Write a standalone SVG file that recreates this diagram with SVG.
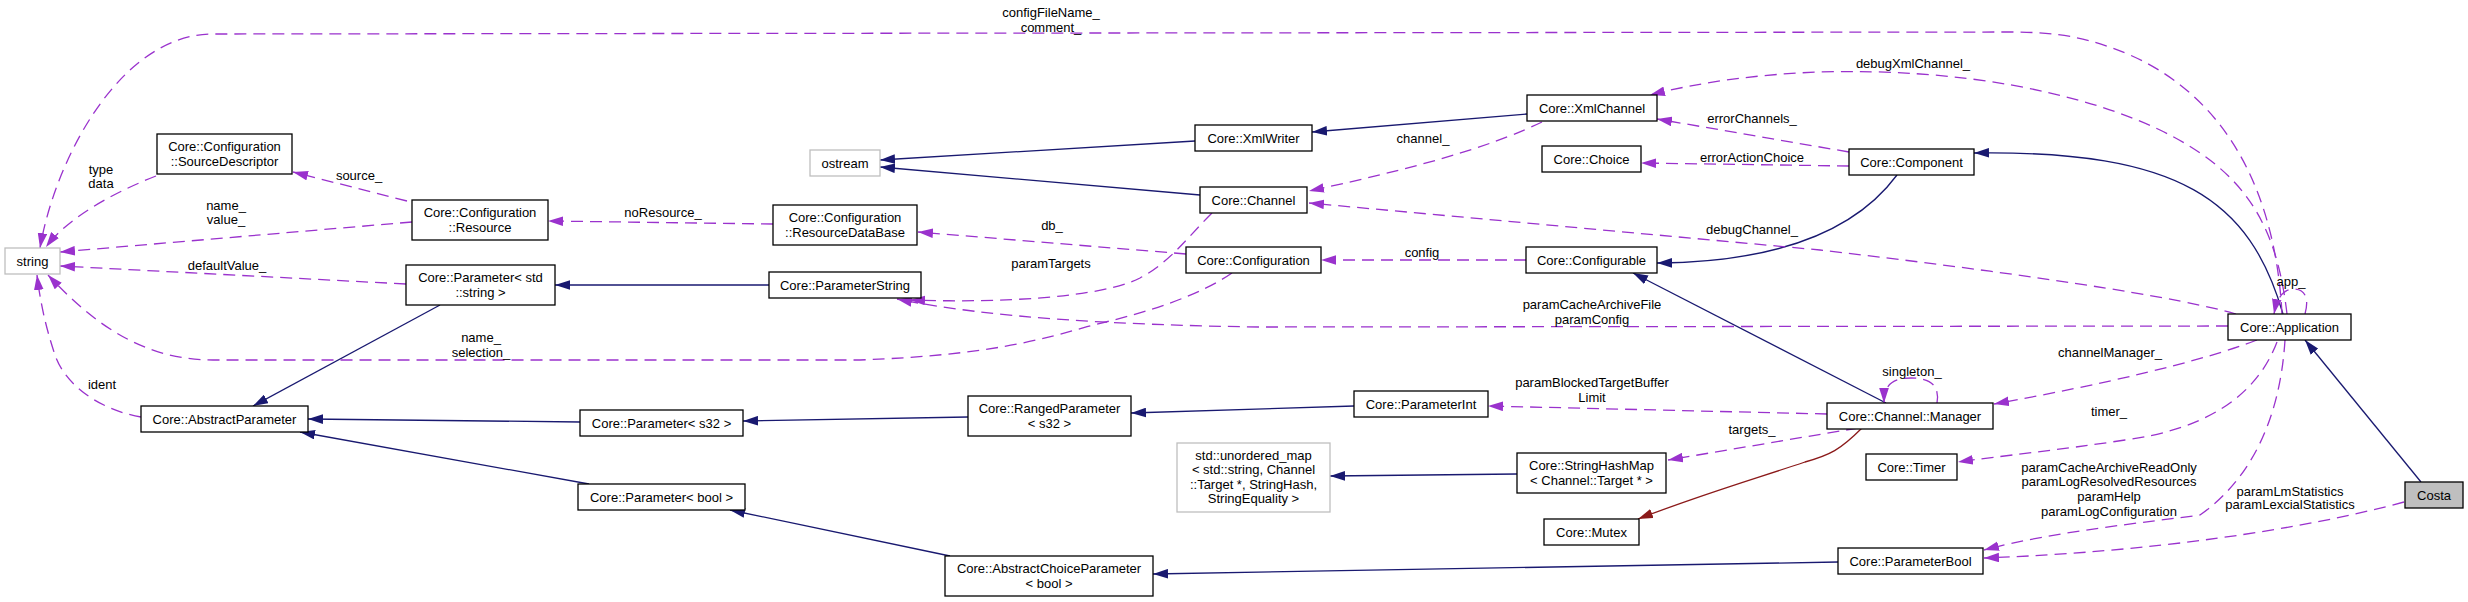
<svg xmlns="http://www.w3.org/2000/svg" width="2468" height="602" viewBox="0 0 2468 602">
<style>
text{font-family:"Liberation Sans",Arial,sans-serif;font-size:13px;fill:#000;text-anchor:middle}
.n rect{fill:#fff;stroke:#000;stroke-width:1.3}
.n.gray rect{stroke:#bfbfbf}
.n.sel rect{fill:#bfbfbf}
.inh{fill:none;stroke:#191970;stroke-width:1.3}
.use{fill:none;stroke:#9a32cd;stroke-width:1.3;stroke-dasharray:12,7}
.red{fill:none;stroke:#8b1a1a;stroke-width:1.3}
</style>
<defs>
<marker id="aN" markerUnits="userSpaceOnUse" markerWidth="15" markerHeight="10" viewBox="0 0 14 9" refX="14" refY="4.5" orient="auto"><path d="M0,0L14,4.5L0,9z" fill="#191970"/></marker>
<marker id="aP" markerUnits="userSpaceOnUse" markerWidth="15" markerHeight="10" viewBox="0 0 14 9" refX="14" refY="4.5" orient="auto"><path d="M0,0L14,4.5L0,9z" fill="#9a32cd"/></marker>
<marker id="aR" markerUnits="userSpaceOnUse" markerWidth="15" markerHeight="10" viewBox="0 0 14 9" refX="14" refY="4.5" orient="auto"><path d="M0,0L14,4.5L0,9z" fill="#8b1a1a"/></marker>
</defs>
<rect width="2468" height="602" fill="#fff"/>
<g id="connectors">
<path class="inh" marker-end="url(#aN)" d="M1195,141L880,160"/>
<path class="inh" marker-end="url(#aN)" d="M1200,195L880,167"/>
<path class="inh" marker-end="url(#aN)" d="M1527,114L1312,132"/>
<path class="inh" marker-end="url(#aN)" d="M440,305L253,406"/>
<path class="inh" marker-end="url(#aN)" d="M769,285L555,285"/>
<path class="inh" marker-end="url(#aN)" d="M580,422L308,419"/>
<path class="inh" marker-end="url(#aN)" d="M589,484L300,432"/>
<path class="inh" marker-end="url(#aN)" d="M968,417L743,421"/>
<path class="inh" marker-end="url(#aN)" d="M1354,406L1131,413"/>
<path class="inh" marker-end="url(#aN)" d="M950,556L730,510"/>
<path class="inh" marker-end="url(#aN)" d="M1838,562L1153,574"/>
<path class="inh" marker-end="url(#aN)" d="M1517,474L1330,476"/>
<path class="inh" marker-end="url(#aN)" d="M1897,175C1860,225 1790,262 1657,263"/>
<path class="inh" marker-end="url(#aN)" d="M1886,403L1633,273"/>
<path class="inh" marker-end="url(#aN)" d="M2283,314C2250,200 2180,150 1974,153"/>
<path class="inh" marker-end="url(#aN)" d="M2421,482L2305,340"/>
<path class="red" marker-end="url(#aR)" d="M1862,428C1840,450 1830,455 1805,462C1745,482 1700,495 1638,519"/>
<path class="use" marker-end="url(#aP)" d="M2282,314C2276,200 2232,100 2130,55C2090,38 2060,32 2010,32L213,34C120,34 55,160 40,248"/>
<path class="use" marker-end="url(#aP)" d="M2287,314C2276,220 2242,170 2160,130C2080,92 1960,68 1820,72C1760,74 1700,82 1650,95"/>
<path class="use" marker-end="url(#aP)" d="M1849,152L1657,119"/>
<path class="use" marker-end="url(#aP)" d="M1849,166L1641,163"/>
<path class="use" marker-end="url(#aP)" d="M1542,122C1500,142 1440,163 1309,191"/>
<path class="use" marker-end="url(#aP)" d="M2236,314C2160,292 1950,265 1820,250L1309,203"/>
<path class="use" marker-end="url(#aP)" d="M2228,326L1260,327C1120,325 990,318 897,299"/>
<path class="use" marker-end="url(#aP)" d="M1212,213C1185,240 1170,262 1140,278C1100,298 1000,303 910,300"/>
<path class="use" marker-end="url(#aP)" d="M1232,273C1200,295 1150,312 1093,325C1040,340 990,355 860,360L213,360C140,360 90,320 48,275"/>
<path class="use" marker-end="url(#aP)" d="M1186,254L918,232"/>
<path class="use" marker-end="url(#aP)" d="M773,224L548,221"/>
<path class="use" marker-end="url(#aP)" d="M407,201L293,172"/>
<path class="use" marker-end="url(#aP)" d="M156,176C120,190 70,215 46,247"/>
<path class="use" marker-end="url(#aP)" d="M412,222L60,252"/>
<path class="use" marker-end="url(#aP)" d="M406,284L60,266"/>
<path class="use" marker-end="url(#aP)" d="M141,417C100,410 65,385 55,355C45,325 40,300 37,275"/>
<path class="use" marker-end="url(#aP)" d="M1526,260L1321,260"/>
<path class="use" marker-end="url(#aP)" d="M1827,414L1488,406"/>
<path class="use" marker-end="url(#aP)" d="M1858,428L1668,460"/>
<path class="use" marker-end="url(#aP)" d="M1937,403C1940,385 1930,378 1911,378C1892,378 1884,385 1884,403"/>
<path class="use" marker-end="url(#aP)" d="M2257,340C2200,362 2100,385 1994,404"/>
<path class="use" marker-end="url(#aP)" d="M2277,342C2255,400 2200,430 2125,440C2060,450 2000,456 1958,462"/>
<path class="use" marker-end="url(#aP)" d="M2285,340C2280,420 2250,480 2200,515C2150,522 2050,532 1984,550"/>
<path class="use" marker-end="url(#aP)" d="M2404,502C2300,530 2150,552 1984,558"/>
<path class="use" marker-end="url(#aP)" d="M2305,314C2309,300 2306,289 2294,289C2283,289 2277,298 2274,314"/>
<text x="1051" y="16.5">configFileName_</text>
<text x="1051" y="31.5">comment_</text>
<text x="101" y="173.5">type</text>
<text x="101" y="187.5">data</text>
<text x="359" y="179.5">source_</text>
<text x="226" y="209.5">name_</text>
<text x="226" y="223.5">value_</text>
<text x="227" y="269.5">defaultValue_</text>
<text x="102" y="388.5">ident</text>
<text x="481" y="341.5">name_</text>
<text x="481" y="356.5">selection_</text>
<text x="663" y="216.5">noResource_</text>
<text x="1052" y="229.5">db_</text>
<text x="1051" y="267.5">paramTargets</text>
<text x="1423" y="142.5">channel_</text>
<text x="1752" y="122.5">errorChannels_</text>
<text x="1752" y="161.5">errorActionChoice</text>
<text x="1752" y="233.5">debugChannel_</text>
<text x="1422" y="256.5">config</text>
<text x="1592" y="308.5">paramCacheArchiveFile</text>
<text x="1592" y="323.5">paramConfig</text>
<text x="1592" y="386.5">paramBlockedTargetBuffer</text>
<text x="1592" y="401.5">Limit</text>
<text x="1752" y="433.5">targets_</text>
<text x="1913" y="67.5">debugXmlChannel_</text>
<text x="2291" y="285.5">app_</text>
<text x="2110" y="356.5">channelManager_</text>
<text x="1912" y="375.5">singleton_</text>
<text x="2109" y="415.5">timer_</text>
<text x="2109" y="471.5">paramCacheArchiveReadOnly</text>
<text x="2109" y="485.5">paramLogResolvedResources</text>
<text x="2109" y="500.5">paramHelp</text>
<text x="2109" y="515.5">paramLogConfiguration</text>
<text x="2290" y="495.5">paramLmStatistics</text>
<text x="2290" y="508.5">paramLexcialStatistics</text>
</g>
<g id="n_string" class="n gray"><rect x="5" y="248" width="55" height="26"/><text x="32.5" y="265.5">string</text></g>
<g id="n_sourcedescriptor" class="n"><rect x="157" y="134" width="135" height="40"/><text x="224.5" y="150.5">Core::Configuration</text><text x="224.5" y="165.5">::SourceDescriptor</text></g>
<g id="n_resource" class="n"><rect x="412" y="200" width="136" height="40"/><text x="480" y="216.5">Core::Configuration</text><text x="480" y="231.5">::Resource</text></g>
<g id="n_paramstdstring" class="n"><rect x="406" y="265" width="149" height="40"/><text x="480.5" y="281.5">Core::Parameter&lt; std</text><text x="480.5" y="296.5">::string &gt;</text></g>
<g id="n_abstractparameter" class="n"><rect x="141" y="406" width="167" height="26"/><text x="224.5" y="423.5">Core::AbstractParameter</text></g>
<g id="n_parameterstring" class="n"><rect x="769" y="272" width="152" height="26"/><text x="845" y="289.5">Core::ParameterString</text></g>
<g id="n_resourcedatabase" class="n"><rect x="773" y="205" width="144" height="40"/><text x="845" y="221.5">Core::Configuration</text><text x="845" y="236.5">::ResourceDataBase</text></g>
<g id="n_ostream" class="n gray"><rect x="810" y="150" width="70" height="26"/><text x="845" y="167.5">ostream</text></g>
<g id="n_params32" class="n"><rect x="580" y="410" width="163" height="26"/><text x="661.5" y="427.5">Core::Parameter&lt; s32 &gt;</text></g>
<g id="n_parambool" class="n"><rect x="578" y="484" width="167" height="26"/><text x="661.5" y="501.5">Core::Parameter&lt; bool &gt;</text></g>
<g id="n_rangedparameter" class="n"><rect x="968" y="396" width="163" height="40"/><text x="1049.5" y="412.5">Core::RangedParameter</text><text x="1049.5" y="427.5">&lt; s32 &gt;</text></g>
<g id="n_abstractchoice" class="n"><rect x="945" y="556" width="208" height="40"/><text x="1049" y="572.5">Core::AbstractChoiceParameter</text><text x="1049" y="587.5">&lt; bool &gt;</text></g>
<g id="n_xmlwriter" class="n"><rect x="1195" y="125" width="117" height="26"/><text x="1253.5" y="142.5">Core::XmlWriter</text></g>
<g id="n_channel" class="n"><rect x="1200" y="187" width="107" height="26"/><text x="1253.5" y="204.5">Core::Channel</text></g>
<g id="n_configuration" class="n"><rect x="1186" y="247" width="135" height="26"/><text x="1253.5" y="264.5">Core::Configuration</text></g>
<g id="n_xmlchannel" class="n"><rect x="1527" y="95" width="130" height="26"/><text x="1592" y="112.5">Core::XmlChannel</text></g>
<g id="n_choice" class="n"><rect x="1542" y="146" width="99" height="26"/><text x="1591.5" y="163.5">Core::Choice</text></g>
<g id="n_configurable" class="n"><rect x="1526" y="247" width="131" height="26"/><text x="1591.5" y="264.5">Core::Configurable</text></g>
<g id="n_component" class="n"><rect x="1849" y="149" width="125" height="26"/><text x="1911.5" y="166.5">Core::Component</text></g>
<g id="n_parameterint" class="n"><rect x="1354" y="391" width="134" height="26"/><text x="1421" y="408.5">Core::ParameterInt</text></g>
<g id="n_unorderedmap" class="n gray"><rect x="1177" y="443" width="153" height="69"/><text x="1253.5" y="459.5">std::unordered_map</text><text x="1253.5" y="474">&lt; std::string, Channel</text><text x="1253.5" y="488.5">::Target *, StringHash,</text><text x="1253.5" y="503">StringEquality &gt;</text></g>
<g id="n_stringhashmap" class="n"><rect x="1517" y="453" width="149" height="40"/><text x="1591.5" y="469.5">Core::StringHashMap</text><text x="1591.5" y="484.5">&lt; Channel::Target * &gt;</text></g>
<g id="n_mutex" class="n"><rect x="1544" y="519" width="95" height="26"/><text x="1591.5" y="536.5">Core::Mutex</text></g>
<g id="n_manager" class="n"><rect x="1827" y="403" width="166" height="26"/><text x="1910" y="420.5">Core::Channel::Manager</text></g>
<g id="n_timer" class="n"><rect x="1866" y="454" width="91" height="26"/><text x="1911.5" y="471.5">Core::Timer</text></g>
<g id="n_parameterbool" class="n"><rect x="1838" y="548" width="145" height="26"/><text x="1910.5" y="565.5">Core::ParameterBool</text></g>
<g id="n_application" class="n"><rect x="2228" y="314" width="123" height="26"/><text x="2289.5" y="331.5">Core::Application</text></g>
<g id="n_costa" class="n sel"><rect x="2405" y="482" width="58" height="26"/><text x="2434" y="499.5">Costa</text></g>
</svg>
